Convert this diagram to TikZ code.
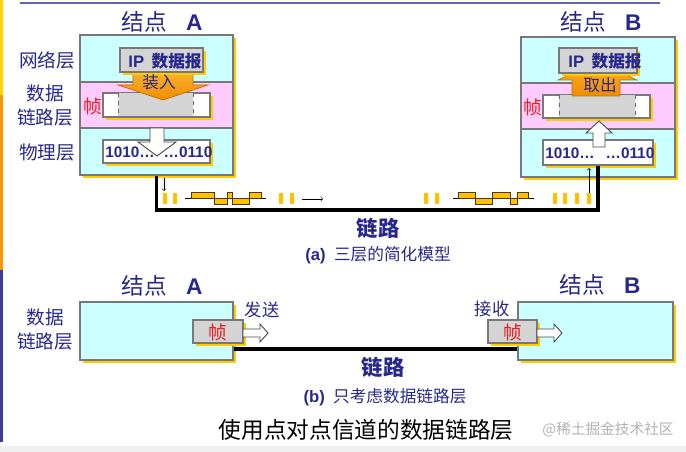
\documentclass[tikz,border=0pt]{standalone}
\usepackage{fontspec}
\setmainfont{Noto Sans CJK SC}
\newfontfamily\lat{Liberation Sans}
\usetikzlibrary{fit,shadows}
\definecolor{txtblue}{RGB}{40,40,140}
\definecolor{boxgray}{RGB}{120,120,120}
\definecolor{cyanbg}{RGB}{204,255,255}
\definecolor{pinkbg}{RGB}{255,204,255}
\definecolor{ipgray}{RGB}{212,212,212}
\definecolor{shadowyel}{RGB}{255,204,0}
\definecolor{sigyel}{RGB}{255,192,0}
\definecolor{arrtop}{RGB}{250,180,50}
\definecolor{arrbot}{RGB}{240,140,0}
\definecolor{zhenred}{RGB}{235,30,30}
\definecolor{edgeyel}{RGB}{255,210,0}
\definecolor{edgeorg}{RGB}{255,150,0}
\definecolor{edgeblu}{RGB}{60,60,160}
\begin{document}
\begin{tikzpicture}[x=0.75pt,y=-0.75pt,
  every node/.style={inner sep=0pt,text=txtblue},
  box/.style={draw=boxgray,line width=0.8pt,inner sep=0pt},
  shade/.style={drop shadow={shadow xshift=2.25pt,shadow yshift=-2.25pt,fill=shadowyel,opacity=1}},
  lbl/.style={font=\fontsize{14}{18}\selectfont,align=center},
  ttl/.style={font=\fontsize{17}{20}\selectfont},
  small/.style={font=\fontsize{12.5}{15}\selectfont},
  bits/.style={font=\lat\bfseries\fontsize{11.5}{14}\selectfont},
  zhen/.style={font=\fontsize{14}{16}\selectfont,text=zhenred},
  bigarr/.style={top color=arrtop,bottom color=arrbot,draw=arrbot!80!black,line width=0.5pt},
  hollow/.style={draw=black!70,fill=white,line width=0.7pt},
  link/.style={line width=2.3pt,black},
  bar/.style={fill=sigyel,rounded corners=0.5pt},
  wave/.style={fill=sigyel,draw=black!70!sigyel,line width=0.6pt}]
\useasboundingbox (0,0) rectangle (686,452);
% page edge marks
\fill[edgeyel] (0,0) rectangle (3,95);
\fill[edgeorg] (0,95) rectangle (3,270);
\fill[edgeblu] (0,270) rectangle (3,442);
\draw[edgeblu!80,line width=1.5pt] (20,3) -- (660,3);
\fill[gray!12] (0,446) rectangle (686,452);

% ---------- (a) three layer model ----------
\node[box,shade,fill=cyanbg,fit={(80,35)(233,175)}] (nodeA) {};
\draw[box,fill=pinkbg] (80,82) rectangle (233,128);
\node[box,shade,fill=cyanbg,fit={(521,37)(675,177)}] (nodeB) {};
\draw[box,fill=pinkbg] (521,83) rectangle (675,129);
\node[ttl] (titleA) at (162,22) {结点\hspace{0.85em}{\lat\bfseries A}};
\node[ttl] (titleB) at (601,22) {结点\hspace{0.85em}{\lat\bfseries B}};

\node[lbl] (netL) at (47,60) {网络层};
\node[lbl] (dllL) at (45,105) {数据\\链路层};
\node[lbl] (phyL) at (47,152) {物理层};

% frames
\foreach \nm/\xa/\xb/\ga/\gb/\ya/\yb in {frameA/103/210/118/193/93/117,frameB/543/650/559/635/95/118} {
  \node[box,shade,fill=white,fit={(\xa,\ya)(\xb,\yb)}] (\nm) {};
  \fill[ipgray] (\ga,\ya+0.5) rectangle (\gb,\yb-0.5);
  \draw[dashed,black!60,line width=0.4pt] (\ga,\ya+0.5) -- (\ga,\yb-0.5) (\gb,\ya+0.5) -- (\gb,\yb-0.5);
}
\node[zhen] (zhenA) at (93,106) {帧};
\node[zhen] (zhenB) at (533,107) {帧};

% orange arrows
\draw[bigarr] (133,70) -- (193,70) -- (193,85) -- (208,85) -- (163,100) -- (118,85) -- (133,85) -- cycle;
\draw[bigarr] (572,96) -- (572,80) -- (558,80) -- (597,62) -- (637,80) -- (620,80) -- (620,96) -- cycle;

% IP datagrams
\node[box,shade,fill=ipgray,fit={(120,48)(203,72)}] (ipA) {};
\node[box,shade,fill=ipgray,fit={(559,48)(637,73)}] (ipB) {};
\node[small,font=\bfseries\fontsize{12.5}{15}\selectfont] (ipAt) at (165,61) {{\lat IP}\hspace{0.45em}数据报};
\node[small,font=\bfseries\fontsize{12.5}{15}\selectfont] (ipBt) at (605,61) {{\lat IP}\hspace{0.45em}数据报};
\node[small] (putin) at (159,82) {装入};
\node[small] (takeout) at (600,85) {取出};

% physical layer bits
\node[box,shade,fill=white,fit={(103,140)(210,163)}] (physA) {};
\node[box,shade,fill=white,fit={(543,140)(653,165)}] (physB) {};
\draw[hollow] (150,128) -- (164,128) -- (164,142) -- (176,142) -- (157,156) -- (138,142) -- (150,142) -- cycle;
\draw[hollow] (593,147) -- (593,133) -- (586,133) -- (599,121) -- (612,133) -- (605,133) -- (605,147) -- cycle;
\node[bits] (bitsA1) at (130,152) {1010…};
\node[bits] (bitsA2) at (188,152) {…0110};
\node[bits] (bitsB1) at (570,153) {1010…};
\node[bits] (bitsB2) at (630,153) {…0110};

% the link
\coordinate (linkL) at (physA |- 0,210);
\coordinate (linkR) at (physB |- 0,210);
\draw[link] (physA |- nodeA.south) -- (linkL) -- (linkR) -- (physB.south);
\draw[->,thin] (164,178) -- (164,191);
\draw[->,thin] (589,201) -- (589,168);
\draw[->,thin] (302,199) -- (323,199);
\foreach \xb in {165,175,281,292,426,437,555,565,577,589}
  \fill[bar] (\xb-2,193) rectangle (\xb+2,204);
\draw[thin] (185,198) -- (266,198);
\foreach \a/\b/\y in {191/214/192,214/227/204,227/232/192,232/249/204,249/261/192}
  \draw[wave] (\a,198) rectangle (\b,\y);
\draw[thin] (453,198) -- (534,198);
\foreach \a/\b/\y in {458/475/192,475/492/204,492/510/192,510/517/204,517/528/192}
  \draw[wave] (\a,198) rectangle (\b,\y);
\node[font=\bfseries\fontsize{16}{18}\selectfont] (linkAt) at (378,228) {链路};
\node[small,font=\fontsize{12.5}{15}\selectfont] (capA) at (378,255) {{\lat\bfseries (a)}\hspace{0.5em}三层的简化模型};

% ---------- (b) data link layer only ----------
\node[box,shade,fill=cyanbg,fit={(80,302)(233,360)}] (dlA) {};
\node[box,shade,fill=cyanbg,fit={(518,302)(673,360)}] (dlB) {};
\draw[link] (dlA.east |- 0,349) -- (dlB.west |- 0,349);
\node[box,shade,fill=ipgray,fit={(193,320)(243,343)}] (sendF) {};
\node[box,shade,fill=ipgray,fit={(488,320)(537,343)}] (recvF) {};
\node[zhen] (zhenSA) at (218,332) {帧};
\node[zhen] (zhenSB) at (513,332) {帧};
\draw[hollow] (243,329) -- (260,329) -- (260,324) -- (268,333) -- (260,342) -- (260,337) -- (243,337) -- cycle;
\draw[hollow] (537,329) -- (554,329) -- (554,324) -- (562,333) -- (554,342) -- (554,337) -- (537,337) -- cycle;
\node[ttl] (dlAt) at (162,286) {结点\hspace{0.85em}{\lat\bfseries A}};
\node[ttl] (dlBt) at (600,285) {结点\hspace{0.85em}{\lat\bfseries B}};
\node[lbl] (dllL2) at (45,329) {数据\\链路层};
\node[small,font=\fontsize{13}{15}\selectfont] (send) at (262,310) {发送};
\node[small,font=\fontsize{13}{15}\selectfont] (recv) at (492,309) {接收};
\node[font=\bfseries\fontsize{16}{18}\selectfont] (linkBt) at (383,367) {链路};
\node[small,font=\fontsize{12.5}{15}\selectfont] (capB) at (385,397) {{\lat\bfseries (b)}\hspace{0.5em}只考虑数据链路层};

\node[font=\fontsize{17}{20}\selectfont,text=black] (mainT) at (366,430) {使用点对点信道的数据链路层};
\node[font=\fontsize{11}{13}\selectfont,text=gray!60] (mark) at (608,430) {@稀土掘金技术社区};
\end{tikzpicture}
\end{document}
